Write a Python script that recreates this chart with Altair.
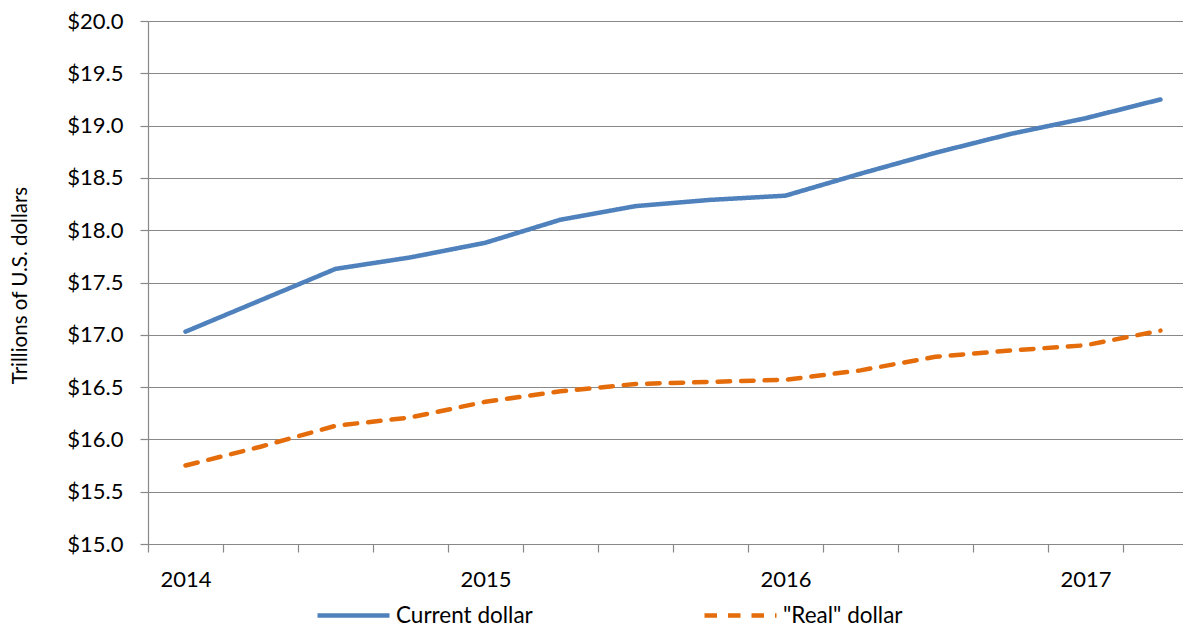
import altair as alt
import pandas as pd

quarters = ["2014 Q1", "2014 Q2", "2014 Q3", "2014 Q4",
            "2015 Q1", "2015 Q2", "2015 Q3", "2015 Q4",
            "2016 Q1", "2016 Q2", "2016 Q3", "2016 Q4",
            "2017 Q1", "2017 Q2"]
current_dollar = [17.03, 17.33, 17.63, 17.74, 17.88, 18.10, 18.23,
                  18.29, 18.33, 18.54, 18.74, 18.92, 19.07, 19.25]
real_dollar = [15.75, 15.93, 16.13, 16.21, 16.36, 16.46, 16.53,
               16.55, 16.57, 16.66, 16.79, 16.85, 16.90, 17.04]
series_names = ["Current dollar", '"Real" dollar']
y_ticks = [15.0, 15.5, 16.0, 16.5, 17.0, 17.5, 18.0, 18.5, 19.0, 19.5, 20.0]

rows = []
for i, q in enumerate(quarters):
    rows.append({"idx": i, "quarter": q, "series": series_names[0], "value": current_dollar[i]})
    rows.append({"idx": i, "quarter": q, "series": series_names[1], "value": real_dollar[i]})
df = pd.DataFrame(rows)

# tick marks sit between categories (Excel style); year labels only on Q1
tick_values = [i - 0.5 for i in range(len(quarters))]
expr = "''"
for i, q in reversed(list(enumerate(quarters))):
    if q.endswith("Q1"):
        expr = f"datum.value == {i - 0.5} ? '{q[:4]}' : ({expr})"

FONT = "Lato"
GRAY = "#888888"
BLUE = "#4F81BD"
ORANGE = "#E46C0A"

legend = alt.Legend(
    title=None, orient="none", legendX=167, legendY=556,
    direction="horizontal", symbolType="stroke", symbolSize=5184,
    symbolStrokeWidth=4.5, labelFont=FONT, labelFontSize=22.5,
    labelColor="#000000", labelOffset=4, columnPadding=162, labelLimit=400,
)

chart = alt.Chart(df).mark_line(
    strokeWidth=4.5, strokeCap="round", strokeJoin="round"
).encode(
    x=alt.X("idx:Q",
            scale=alt.Scale(domain=[-0.5, 13.3], nice=False, zero=False),
            axis=alt.Axis(values=tick_values, labelExpr=expr, labelOffset=37.5,
                          labelFlush=False, labelOverlap=False, grid=False,
                          tickSize=8, tickColor=GRAY, tickWidth=1.2,
                          domainColor=GRAY, domainWidth=1.2,
                          labelFont=FONT, labelFontSize=22, labelColor="#000000",
                          labelPadding=17, title=None)),
    y=alt.Y("value:Q",
            scale=alt.Scale(domain=[15, 20], nice=False, zero=False),
            axis=alt.Axis(values=y_ticks, format="$.1f", grid=True,
                          gridColor=GRAY, gridWidth=1.2,
                          tickSize=8, tickColor=GRAY, tickWidth=1.2,
                          domainColor=GRAY, domainWidth=1.2,
                          labelFont=FONT, labelFontSize=22, labelColor="#000000",
                          labelPadding=17,
                          title="Trillions of U.S. dollars", titleFont=FONT,
                          titleFontSize=20.5, titleFontWeight="normal",
                          titleColor="#000000", titleX=-128, titleY=264,
                          titleBaseline="middle")),
    color=alt.Color("series:N",
                    scale=alt.Scale(domain=series_names, range=[BLUE, ORANGE]),
                    legend=legend),
    strokeDash=alt.StrokeDash("series:N",
                              scale=alt.Scale(domain=series_names,
                                              range=[[1, 0], [12.5, 11]]),
                              legend=legend),
).properties(
    width=1035, height=523,
    autosize=alt.AutoSizeParams(type="none"),
    padding={"left": 140, "top": 13, "right": 0, "bottom": 85},
).configure_view(strokeWidth=0)

chart.save("out.html", embed_options={"renderer": "svg", "actions": False})
